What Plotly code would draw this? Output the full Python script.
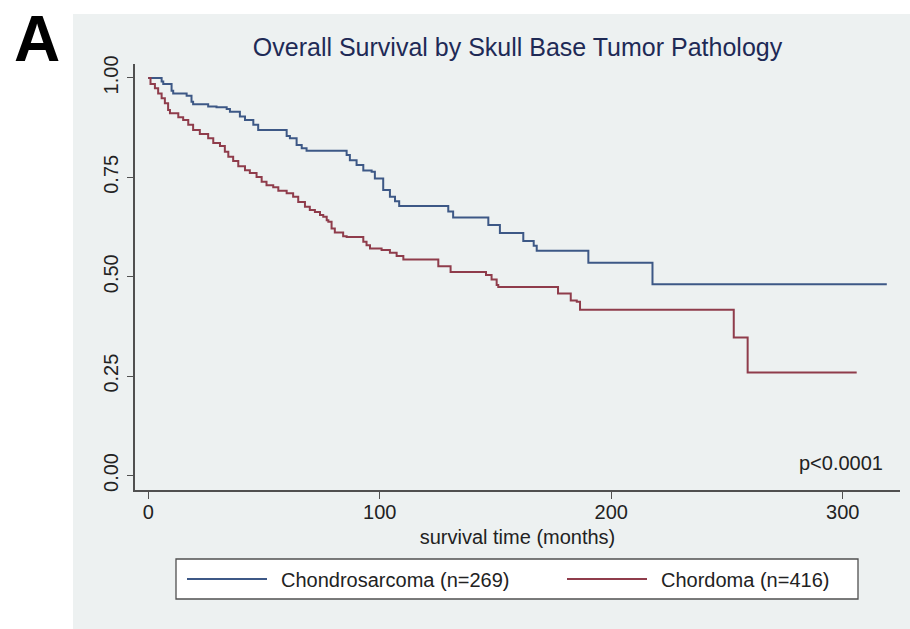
import plotly.graph_objects as go

# Kaplan-Meier estimates: time (months) and survival probability after each drop
chondro_t = [0, 5.8, 6.5, 10.1, 10.8, 16.6, 18.7, 19.4, 25.9, 29.5, 33.9, 35.3,
             39.6, 41.8, 45.4, 47.5, 59.8, 61.2, 64.1, 66.3, 68.4, 85.7, 87.1,
             90.0, 92.9, 96.5, 97.9, 101.5, 104.4, 106.6, 108.4, 129.6, 131.7,
             146.9, 151.9, 162.0, 166.5, 167.8, 190.1, 217.8, 319.0]
chondro_s = [1.0, 0.991, 0.985, 0.968, 0.961, 0.955, 0.940, 0.934, 0.928, 0.926,
             0.922, 0.915, 0.903, 0.894, 0.882, 0.869, 0.854, 0.848, 0.831, 0.823,
             0.817, 0.806, 0.793, 0.781, 0.767, 0.764, 0.747, 0.718, 0.701, 0.690,
             0.678, 0.664, 0.649, 0.630, 0.610, 0.590, 0.578, 0.565, 0.535, 0.481,
             0.481]

chordoma_t = [0, 1.0, 2.9, 4.3, 5.8, 7.2, 8.6, 9.4, 13.0, 15.1, 17.3, 19.4, 22.3,
              25.9, 28.1, 31.0, 33.1, 34.6, 36.7, 38.9, 41.8, 43.9, 46.8, 49.0,
              51.1, 54.0, 56.2, 59.8, 62.6, 64.8, 67.7, 69.8, 72.0, 74.2, 75.6,
              77.1, 77.8, 79.2, 80.6, 84.2, 85.7, 92.9, 94.3, 95.8, 100.8, 104.4,
              107.3, 110.2, 125.3, 130.6, 145.9, 148.3, 150.5, 151.2, 177.0, 182.5,
              185.1, 186.5, 252.9, 258.9, 306.0]
chordoma_s = [1.0, 0.985, 0.974, 0.961, 0.949, 0.936, 0.919, 0.911, 0.901, 0.894,
              0.882, 0.869, 0.859, 0.848, 0.836, 0.829, 0.814, 0.802, 0.791, 0.778,
              0.768, 0.761, 0.751, 0.739, 0.730, 0.725, 0.716, 0.710, 0.701, 0.688,
              0.676, 0.668, 0.663, 0.655, 0.651, 0.642, 0.638, 0.621, 0.611, 0.602,
              0.600, 0.588, 0.579, 0.571, 0.567, 0.560, 0.552, 0.543, 0.526, 0.512,
              0.504, 0.493, 0.479, 0.474, 0.458, 0.440, 0.437, 0.417, 0.347, 0.259,
              0.259]

series_names = ["Chondrosarcoma (n=269)", "Chordoma (n=416)"]
series_colors = ["#3d5886", "#8f3c4b"]

x_ticks = [0, 100, 200, 300]
y_ticks = [0, 0.25, 0.5, 0.75, 1.0]
y_ticktext = ["0.00", "0.25", "0.50", "0.75", "1.00"]

FONT = "Liberation Sans, Arial, Helvetica, sans-serif"
W, H = 910, 629
ML, MR, MT, MB = 135, 10, 64, 139
PW = W - ML - MR
PH = H - MT - MB


def px(x):
    """pixel column -> paper x"""
    return (x - ML) / PW


def py(y):
    """pixel row -> paper y"""
    return (H - MB - y) / PH


fig = go.Figure()
for t, s, name, col in [(chondro_t, chondro_s, series_names[0], series_colors[0]),
                        (chordoma_t, chordoma_s, series_names[1], series_colors[1])]:
    fig.add_trace(go.Scatter(x=t, y=s, mode="lines", name=name,
                             line=dict(shape="hv", color=col, width=2),
                             showlegend=False))

shapes = [
    # light graph region behind the white plot region
    dict(type="rect", xref="paper", yref="paper", x0=px(73), x1=px(W + 5),
         y0=py(H + 5), y1=py(14), fillcolor="#edf1f1", line=dict(width=0),
         layer="below"),
    # legend box
    dict(type="rect", xref="paper", yref="paper", x0=px(176), x1=px(858),
         y0=py(599), y1=py(559), fillcolor="white",
         line=dict(color="#505050", width=1.3)),
    dict(type="line", xref="paper", yref="paper", x0=px(187), x1=px(267),
         y0=py(579), y1=py(579), line=dict(color=series_colors[0], width=2)),
    dict(type="line", xref="paper", yref="paper", x0=px(567), x1=px(647),
         y0=py(579), y1=py(579), line=dict(color=series_colors[1], width=2)),
]

annotations = [
    dict(text=series_names[0], xref="paper", yref="paper", x=px(279), y=py(580),
         xanchor="left", yanchor="middle", showarrow=False,
         font=dict(family=FONT, size=20, color="#222222")),
    dict(text=series_names[1], xref="paper", yref="paper", x=px(659), y=py(580),
         xanchor="left", yanchor="middle", showarrow=False,
         font=dict(family=FONT, size=20, color="#222222")),
    dict(text="p<0.0001", xref="paper", yref="paper", x=px(885), y=py(463),
         xanchor="right", yanchor="middle", showarrow=False,
         font=dict(family=FONT, size=20, color="#222222")),
    dict(text="<b>A</b>", xref="paper", yref="paper", x=px(37), y=py(1),
         xanchor="center", yanchor="top", showarrow=False,
         font=dict(family=FONT, size=64, color="#000000")),
]

fig.update_layout(
    width=W, height=H,
    margin=dict(l=ML, r=MR, t=MT, b=MB, pad=0),
    paper_bgcolor="white",
    plot_bgcolor="white",
    font=dict(family=FONT, size=20, color="#222222"),
    title=dict(text="Overall Survival by Skull Base Tumor Pathology",
               x=0.5, xref="paper", xanchor="center",
               y=1 - 47 / H, yref="container", yanchor="middle",
               font=dict(family=FONT, size=25, color="#1e2a56")),
    shapes=shapes,
    annotations=annotations,
    showlegend=False,
)

fig.update_xaxes(
    range=[-5.7, 324.7], tickvals=x_ticks, ticks="outside", ticklen=7,
    tickwidth=1.3, tickcolor="#505050", showline=True, linecolor="#505050",
    linewidth=1.6, showgrid=False, zeroline=False, ticklabelstandoff=-4,
    tickfont=dict(family=FONT, size=20, color="#222222"),
    title=dict(text="survival time (months)", standoff=8,
               font=dict(family=FONT, size=20, color="#222222")),
)
fig.update_yaxes(
    range=[-0.0365, 1.035], tickvals=y_ticks, ticktext=y_ticktext,
    tickangle=-90, ticks="outside", ticklen=6, tickwidth=1.3,
    tickcolor="#505050", showline=True, linecolor="#505050", linewidth=1.6,
    showgrid=True, gridcolor="#edf1f1", gridwidth=1.5, zeroline=False,
    ticklabelstandoff=1,
    tickfont=dict(family=FONT, size=20, color="#222222"),
)

fig.write_html("out.html")
